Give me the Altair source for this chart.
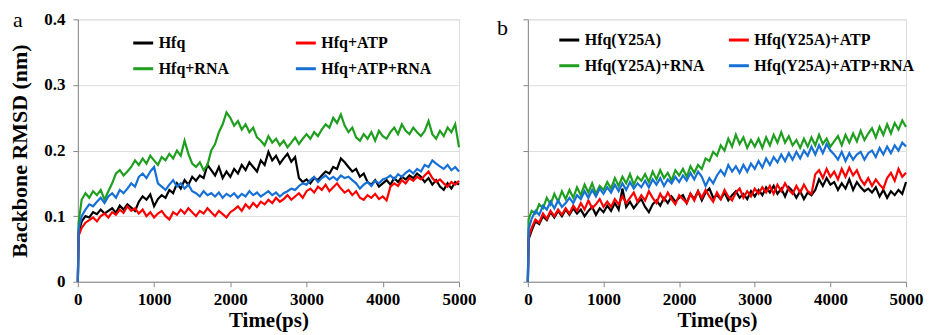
import altair as alt
import pandas as pd

# sampling grid (ps)
TIME = [0, 10] + list(range(50, 5001, 50))

# ---- panel a ----
A_NAMES = ["Hfq", "Hfq+RNA", "Hfq+ATP", "Hfq+ATP+RNA"]
A_HFQ = [0, 0.075,
    0.092, 0.100, 0.098, 0.106, 0.103, 0.110, 0.104, 0.108, 0.112, 0.105,
    0.116, 0.110, 0.118, 0.113, 0.108, 0.122, 0.130, 0.125, 0.133, 0.115,
    0.126, 0.132, 0.128, 0.140, 0.135, 0.150, 0.142, 0.155, 0.148, 0.160,
    0.154, 0.162, 0.158, 0.178, 0.170, 0.162, 0.175, 0.158, 0.168, 0.160,
    0.172, 0.165, 0.178, 0.170, 0.182, 0.175, 0.168, 0.185, 0.178, 0.198,
    0.185, 0.192, 0.180, 0.188, 0.195, 0.183, 0.190, 0.158, 0.152, 0.156,
    0.150, 0.158, 0.155, 0.162, 0.168, 0.165, 0.175, 0.172, 0.188, 0.182,
    0.175, 0.168, 0.172, 0.160, 0.165, 0.152, 0.148, 0.155, 0.145, 0.150,
    0.155, 0.148, 0.158, 0.152, 0.160, 0.156, 0.162, 0.158, 0.165, 0.160,
    0.152, 0.158, 0.148, 0.155, 0.145, 0.140, 0.150, 0.142, 0.152, 0.148]
A_ATP = [0, 0.070,
    0.082, 0.090, 0.094, 0.098, 0.092, 0.100, 0.104, 0.098, 0.106, 0.102,
    0.110, 0.105, 0.115, 0.108, 0.112, 0.104, 0.110, 0.100, 0.106, 0.098,
    0.104, 0.108, 0.100, 0.095, 0.106, 0.102, 0.110, 0.104, 0.112, 0.106,
    0.100, 0.108, 0.104, 0.112, 0.106, 0.100, 0.108, 0.103, 0.098, 0.106,
    0.110, 0.115, 0.108, 0.118, 0.112, 0.120, 0.114, 0.122, 0.118, 0.125,
    0.120, 0.128, 0.122, 0.126, 0.132, 0.125, 0.130, 0.135, 0.128, 0.138,
    0.142, 0.136, 0.145, 0.140, 0.148, 0.138, 0.144, 0.150, 0.142, 0.136,
    0.140, 0.132, 0.138, 0.128, 0.125, 0.132, 0.128, 0.134, 0.126, 0.130,
    0.124, 0.145, 0.150, 0.146, 0.155, 0.150, 0.158, 0.154, 0.160, 0.156,
    0.162, 0.168, 0.158, 0.152, 0.156, 0.150, 0.145, 0.152, 0.148, 0.154]
A_RNA = [0, 0.090,
    0.125, 0.135, 0.128, 0.138, 0.132, 0.140, 0.125, 0.138, 0.150, 0.165,
    0.170, 0.162, 0.168, 0.175, 0.185, 0.178, 0.188, 0.180, 0.192, 0.185,
    0.178, 0.190, 0.185, 0.195, 0.188, 0.200, 0.192, 0.215, 0.195, 0.180,
    0.175, 0.182, 0.170, 0.178, 0.200, 0.210, 0.228, 0.240, 0.258, 0.250,
    0.238, 0.245, 0.232, 0.240, 0.228, 0.235, 0.220, 0.215, 0.208, 0.222,
    0.212, 0.218, 0.208, 0.215, 0.205, 0.212, 0.220, 0.210, 0.218, 0.225,
    0.218, 0.228, 0.222, 0.232, 0.240, 0.235, 0.250, 0.242, 0.255, 0.238,
    0.228, 0.235, 0.220, 0.215, 0.225, 0.218, 0.228, 0.215, 0.230, 0.222,
    0.218, 0.228, 0.235, 0.225, 0.240, 0.230, 0.225, 0.235, 0.228, 0.222,
    0.230, 0.245, 0.225, 0.218, 0.230, 0.222, 0.235, 0.228, 0.240, 0.205]
A_ATP_RNA = [0, 0.080,
    0.100, 0.110, 0.118, 0.115, 0.122, 0.128, 0.120, 0.130, 0.135, 0.128,
    0.140, 0.135, 0.142, 0.150, 0.145, 0.160, 0.165, 0.158, 0.168, 0.175,
    0.150, 0.145, 0.140, 0.148, 0.155, 0.145, 0.150, 0.142, 0.148, 0.138,
    0.135, 0.130, 0.138, 0.132, 0.135, 0.130, 0.136, 0.128, 0.134, 0.130,
    0.135, 0.128, 0.134, 0.130, 0.138, 0.132, 0.136, 0.130, 0.134, 0.138,
    0.132, 0.136, 0.130, 0.135, 0.138, 0.142, 0.140, 0.146, 0.150, 0.148,
    0.155, 0.160, 0.152, 0.158, 0.162, 0.156, 0.160, 0.155, 0.162, 0.158,
    0.160, 0.155, 0.150, 0.142, 0.148, 0.152, 0.146, 0.154, 0.150, 0.156,
    0.158, 0.162, 0.156, 0.164, 0.160, 0.166, 0.170, 0.165, 0.172, 0.168,
    0.178, 0.175, 0.185, 0.180, 0.176, 0.172, 0.178, 0.170, 0.175, 0.168]

# ---- panel b ----
B_NAMES = ["Hfq(Y25A)", "Hfq(Y25A)+RNA", "Hfq(Y25A)+ATP", "Hfq(Y25A)+ATP+RNA"]
B_HFQ = [0, 0.065,
    0.078, 0.092, 0.088, 0.100, 0.094, 0.106, 0.098, 0.108, 0.100, 0.110,
    0.102, 0.112, 0.104, 0.110, 0.100, 0.108, 0.114, 0.102, 0.112, 0.106,
    0.116, 0.108, 0.120, 0.110, 0.142, 0.114, 0.122, 0.112, 0.120, 0.126,
    0.114, 0.106, 0.118, 0.124, 0.116, 0.128, 0.120, 0.130, 0.122, 0.128,
    0.132, 0.120, 0.134, 0.126, 0.138, 0.124, 0.136, 0.142, 0.128, 0.132,
    0.126, 0.136, 0.124, 0.132, 0.138, 0.128, 0.134, 0.126, 0.138, 0.130,
    0.140, 0.132, 0.144, 0.136, 0.146, 0.134, 0.142, 0.130, 0.144, 0.138,
    0.128, 0.138, 0.126, 0.136, 0.132, 0.140, 0.156, 0.146, 0.158, 0.148,
    0.152, 0.140, 0.150, 0.142, 0.156, 0.140, 0.152, 0.144, 0.138, 0.142,
    0.136, 0.144, 0.130, 0.140, 0.128, 0.138, 0.132, 0.140, 0.134, 0.152]
B_ATP = [0, 0.068,
    0.082, 0.095, 0.090, 0.104, 0.096, 0.108, 0.100, 0.110, 0.102, 0.112,
    0.104, 0.116, 0.108, 0.120, 0.110, 0.124, 0.112, 0.118, 0.126, 0.114,
    0.122, 0.114, 0.126, 0.118, 0.130, 0.120, 0.128, 0.136, 0.122, 0.132,
    0.124, 0.138, 0.128, 0.120, 0.134, 0.124, 0.136, 0.126, 0.118, 0.132,
    0.126, 0.120, 0.134, 0.124, 0.138, 0.128, 0.140, 0.130, 0.122, 0.136,
    0.126, 0.140, 0.130, 0.124, 0.136, 0.142, 0.128, 0.138, 0.130, 0.142,
    0.134, 0.144, 0.136, 0.146, 0.134, 0.148, 0.138, 0.150, 0.140, 0.134,
    0.146, 0.136, 0.148, 0.138, 0.134, 0.164, 0.170, 0.158, 0.172, 0.160,
    0.168, 0.156, 0.172, 0.160, 0.174, 0.162, 0.170, 0.156, 0.148, 0.158,
    0.146, 0.156, 0.148, 0.142, 0.158, 0.166, 0.154, 0.172, 0.160, 0.166]
B_RNA = [0, 0.095,
    0.108, 0.104, 0.118, 0.112, 0.128, 0.118, 0.134, 0.122, 0.138, 0.126,
    0.140, 0.128, 0.144, 0.132, 0.148, 0.136, 0.150, 0.134, 0.146, 0.140,
    0.152, 0.142, 0.158, 0.146, 0.160, 0.150, 0.164, 0.148, 0.160, 0.154,
    0.164, 0.152, 0.168, 0.156, 0.170, 0.158, 0.166, 0.154, 0.170, 0.162,
    0.172, 0.160, 0.176, 0.166, 0.178, 0.172, 0.188, 0.184, 0.198, 0.192,
    0.208, 0.200, 0.218, 0.206, 0.224, 0.210, 0.220, 0.204, 0.216, 0.206,
    0.218, 0.204, 0.220, 0.208, 0.224, 0.212, 0.228, 0.212, 0.222, 0.208,
    0.216, 0.204, 0.218, 0.206, 0.220, 0.208, 0.224, 0.210, 0.218, 0.206,
    0.214, 0.222, 0.208, 0.224, 0.212, 0.226, 0.214, 0.230, 0.216, 0.226,
    0.234, 0.220, 0.236, 0.224, 0.240, 0.226, 0.242, 0.232, 0.246, 0.236]
B_ATP_RNA = [0, 0.080,
    0.096, 0.108, 0.102, 0.116, 0.110, 0.122, 0.112, 0.124, 0.114, 0.120,
    0.128, 0.120, 0.132, 0.126, 0.138, 0.128, 0.140, 0.130, 0.142, 0.134,
    0.144, 0.136, 0.148, 0.138, 0.150, 0.140, 0.152, 0.142, 0.150, 0.144,
    0.154, 0.144, 0.156, 0.148, 0.158, 0.146, 0.156, 0.150, 0.160, 0.152,
    0.162, 0.154, 0.166, 0.156, 0.168, 0.160, 0.146, 0.158, 0.150, 0.162,
    0.170, 0.162, 0.178, 0.168, 0.176, 0.166, 0.178, 0.168, 0.180, 0.172,
    0.184, 0.174, 0.188, 0.178, 0.190, 0.182, 0.194, 0.184, 0.196, 0.186,
    0.198, 0.188, 0.200, 0.192, 0.206, 0.194, 0.208, 0.196, 0.210, 0.200,
    0.194, 0.186, 0.198, 0.184, 0.196, 0.186, 0.194, 0.198, 0.186, 0.196,
    0.200, 0.190, 0.204, 0.194, 0.206, 0.196, 0.208, 0.200, 0.212, 0.206]

# legend is laid out column by column: black, green | red, blue
COLORS = ["#000000", "#1f9e1f", "#ff0000", "#1670d6"]
X_TICKS = [0, 1000, 2000, 3000, 4000, 5000]
Y_TICKS = [0, 0.1, 0.2, 0.3, 0.4]
FONT = "Liberation Serif"


def long_frame(names, series):
    rows = []
    for k, (name, vals) in enumerate(zip(names, series)):
        for t, v in zip(TIME, vals):
            rows.append({"time": t, "rmsd": v, "series": name, "k": k})
    return pd.DataFrame(rows)


def panel(names, series, letter, letter_x, letter_y, show_y, col_pad, leg_x, leg_y, w, h):
    df = long_frame(names, series)
    xax = alt.Axis(values=X_TICKS, title="Time(ps)", grid=False, labelFlush=False,
                   format="d", labelFontSize=17, labelFontWeight="bold",
                   titleFontSize=21, titleFontWeight="bold", titlePadding=2,
                   labelPadding=5, tickSize=5)
    if show_y:
        yax = alt.Axis(values=Y_TICKS, title="Backbone RMSD (nm)", grid=True,
                       labelFontSize=17, labelFontWeight="bold",
                       titleFontSize=22, titleFontWeight="bold",
                       titlePadding=12, labelPadding=8, tickSize=5,
                       labelExpr="datum.value == 0 ? '0' : format(datum.value, '.1f')")
    else:
        yax = alt.Axis(values=Y_TICKS, title=None, grid=True, labels=False, tickSize=5)
    lines = alt.Chart(df).mark_line(strokeWidth=2.2).encode(
        x=alt.X("time:Q", scale=alt.Scale(domain=[0, 5000], nice=False), axis=xax),
        y=alt.Y("rmsd:Q", scale=alt.Scale(domain=[0, 0.4], nice=False), axis=yax),
        color=alt.Color("series:N", sort=names,
                        scale=alt.Scale(domain=names, range=COLORS),
                        legend=alt.Legend(title=None, orient="none", legendX=leg_x,
                                          legendY=leg_y, columns=2,
                                          columnPadding=col_pad, rowPadding=6,
                                          symbolType="stroke", symbolSize=400,
                                          symbolStrokeWidth=3, labelFontSize=16,
                                          labelFontWeight="bold", labelFont=FONT,
                                          labelColor="#000", labelOffset=4,
                                          labelLimit=400, padding=0)),
        order=alt.Order("k:Q"),
    )
    lab = alt.Chart(alt.Data(values=[{"t": letter}])).mark_text(
        font=FONT, fontSize=22, align="left", baseline="alphabetic", color="#000"
    ).encode(text="t:N", x=alt.value(letter_x), y=alt.value(letter_y))
    return alt.layer(lines, lab).properties(width=w, height=h)


pa = panel(A_NAMES, [A_HFQ, A_RNA, A_ATP, A_ATP_RNA], "a", -65, 8, True, 60, 54, 12, 382, 263)
pb = panel(B_NAMES, [B_HFQ, B_RNA, B_ATP, B_ATP_RNA], "b", -31, 16, False, 17, 30, 9, 379, 263)

chart = alt.hconcat(pa, pb, spacing=19).resolve_scale(color="independent").properties(
    padding={"left": 0, "top": 0, "right": 0, "bottom": 0}
).configure_view(stroke="#444", strokeWidth=1.5).configure_axis(
    labelFont=FONT, titleFont=FONT, labelColor="#000", titleColor="#000",
    domainColor="#444", domainWidth=1.5, tickColor="#444", tickWidth=1.2,
    gridColor="#cfcfcf", gridWidth=1
).configure(font=FONT)

chart.save("out.html", embed_options={"renderer": "svg", "actions": False})
